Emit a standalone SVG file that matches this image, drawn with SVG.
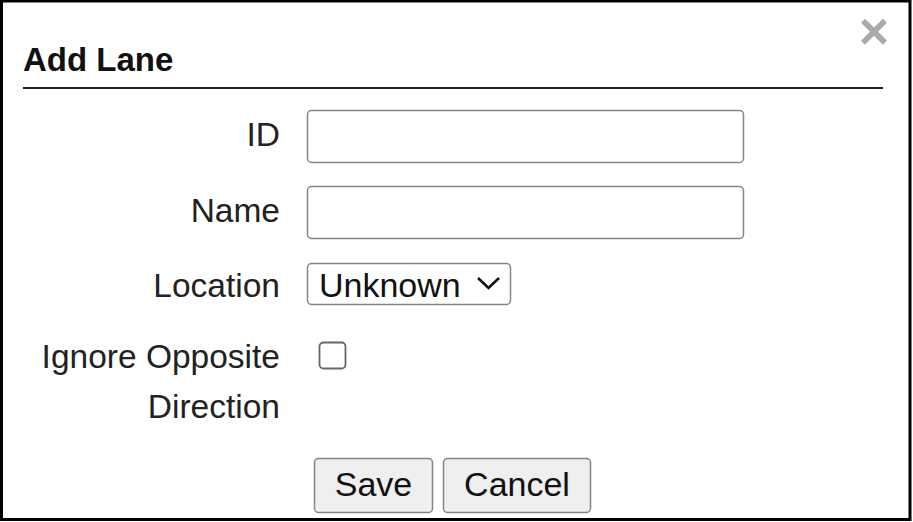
<svg xmlns="http://www.w3.org/2000/svg" width="913" height="522" viewBox="0 0 913 522">
<style>
.lbl{font-family:"Liberation Sans",Arial,sans-serif;font-size:33.5px;fill:#222;text-anchor:end}
.txt{font-family:"Liberation Sans",Arial,sans-serif;font-size:34px;fill:#111}
.box{fill:#fff;stroke:#858585;stroke-width:1.5}
.btn{fill:#efefef;stroke:#858585;stroke-width:1.5}
</style>
<rect x="1.5" y="1" width="908.5" height="518.5" fill="#fff" stroke="#000" stroke-width="3"/>
<g id="header">
<text x="23" y="71" font-family="Liberation Sans,Arial,sans-serif" font-size="33" font-weight="bold" fill="#111">Add Lane</text>
<text x="874" y="49" font-family="Liberation Sans,Arial,sans-serif" font-size="52" font-weight="bold" fill="#aaa" text-anchor="middle">×</text>
<line x1="23" y1="88" x2="883" y2="88" stroke="#222" stroke-width="2"/>
</g>
<g id="id-field">
<text class="lbl" x="280" y="146">ID</text>
<rect class="box" x="307.5" y="110.5" width="436" height="52" rx="4"/>
</g>
<g id="name-field">
<text class="lbl" x="280" y="222">Name</text>
<rect class="box" x="307.5" y="186.5" width="436" height="52" rx="4"/>
</g>
<g id="location-field">
<text class="lbl" x="280" y="297">Location</text>
<rect class="box" x="307.5" y="263.5" width="203" height="41" rx="4"/>
<text class="txt" x="319" y="297">Unknown</text>
<polyline points="478,278 488.5,288 499,278" fill="none" stroke="#111" stroke-width="2.6"/>
</g>
<g id="ignore-field">
<text class="lbl" x="280" y="368">Ignore Opposite</text>
<text class="lbl" x="280" y="418">Direction</text>
<rect x="319.5" y="342.5" width="26" height="26" rx="4" fill="#fff" stroke="#666" stroke-width="1.8"/>
</g>
<g id="save-btn">
<rect class="btn" x="314.5" y="458.5" width="118" height="54" rx="4"/>
<text class="txt" x="373.5" y="496" text-anchor="middle">Save</text>
</g>
<g id="cancel-btn">
<rect class="btn" x="443.5" y="458.5" width="147" height="54" rx="4"/>
<text class="txt" x="517" y="496" text-anchor="middle">Cancel</text>
</g>
<g id="connectors"></g>
</svg>
